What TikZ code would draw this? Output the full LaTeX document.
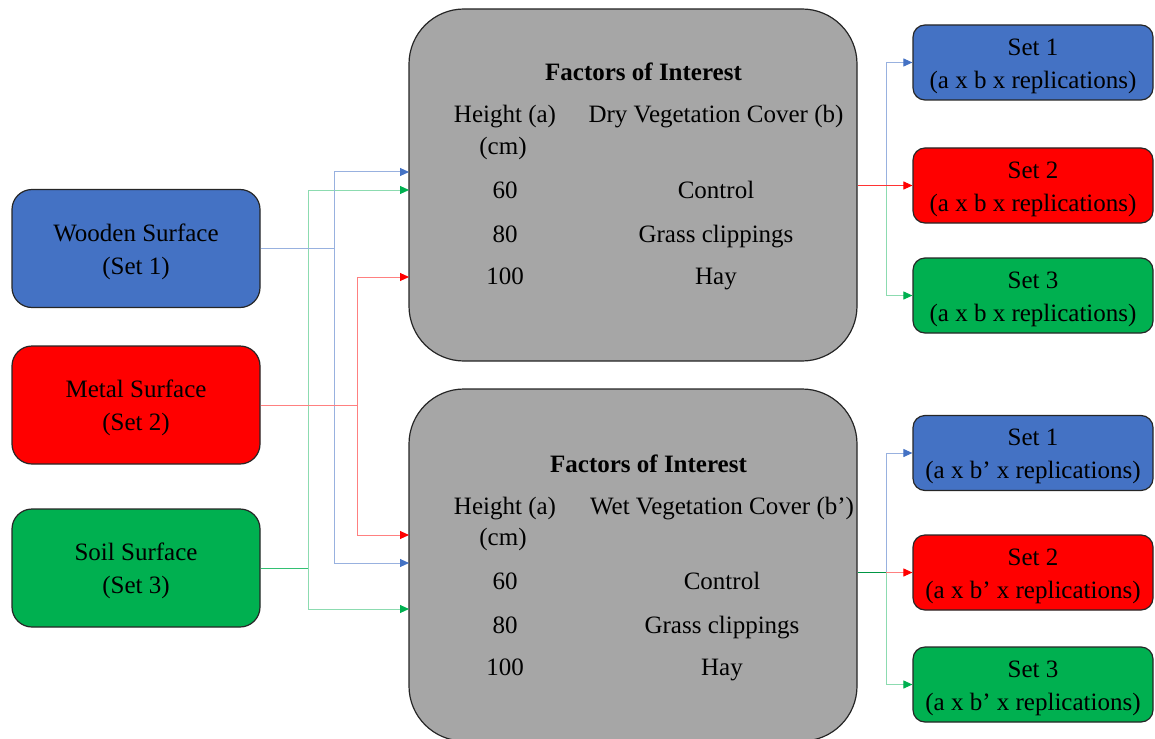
\documentclass[tikz,border=0pt]{standalone}
\usepackage{fontspec}
\setmainfont{Liberation Serif}
\usetikzlibrary{arrows.meta}
\definecolor{cblue}{HTML}{4472C4}
\definecolor{cred}{HTML}{FF0000}
\definecolor{cgreen}{HTML}{00B050}
\definecolor{cgray}{HTML}{A6A6A6}
\definecolor{edge}{HTML}{262626}
\begin{document}
\begin{tikzpicture}[x=1pt,y=-1pt,font=\fontsize{25}{33}\selectfont,
  srcbox/.style={draw=edge,line width=1.2pt,rounded corners=20pt,minimum width=248pt,minimum height=118pt,inner sep=0pt},
  graybox/.style={draw=edge,fill=cgray,line width=1.2pt,rounded corners=55pt,minimum width=448pt,minimum height=352pt,inner sep=0pt},
  outbox/.style={draw=edge,line width=1.2pt,rounded corners=12pt,minimum width=240pt,minimum height=75pt,inner sep=0pt},
  boxtxt/.style={align=center,inner sep=0pt},
  txt/.style={anchor=base,inner sep=0pt},
  lb/.style={draw=cblue!55!white,line width=1pt},
  lr/.style={draw=cred!50!white,line width=1pt},
  lg/.style={draw=cgreen!45!white,line width=1pt},
  tip/.style={-{Triangle[length=9pt,width=8pt,color=#1]}}
]
\useasboundingbox (0,0) rectangle (1155,738);

% source boxes
\node[srcbox,fill=cblue] (wood) at (136,248.5) {};
\node[srcbox,fill=cred] (metal) at (136,405) {};
\node[srcbox,fill=cgreen] (soil) at (136,568) {};
\node[boxtxt] (woodt) at ([yshift=-3pt]wood.center) {Wooden Surface\\(Set 1)};
\node[boxtxt] (metalt) at ([yshift=-3pt]metal.center) {Metal Surface\\(Set 2)};
\node[boxtxt] (soilt) at ([yshift=-3pt]soil.center) {Soil Surface\\(Set 3)};

% gray boxes
\node[graybox] (top) at (633,185) {};
\node[graybox] (bot) at (633,565) {};

% top gray text
\node[txt,font=\fontsize{25}{33}\selectfont\bfseries] (tf) at (643.5,81) {Factors of Interest};
\node[txt] (th1) at (505,123) {Height (a)};
\node[txt] (th2) at (503,154) {(cm)};
\node[txt] (tv) at (716,123) {Dry Vegetation Cover (b)};
\node[txt] (t60) at (505,198) {60};
\node[txt] (tc) at (716,198) {Control};
\node[txt] (t80) at (505,242) {80};
\node[txt] (tg) at (716,242) {Grass clippings};
\node[txt] (t100) at (505,284) {100};
\node[txt] (th) at (716,284) {Hay};

% bottom gray text
\node[txt,font=\fontsize{25}{33}\selectfont\bfseries] (bf) at (648.5,472) {Factors of Interest};
\node[txt] (bh1) at (505,514) {Height (a)};
\node[txt] (bh2) at (503,545) {(cm)};
\node[txt] (bv) at (722,514) {Wet Vegetation Cover (b’)};
\node[txt] (b60) at (505,589) {60};
\node[txt] (bc) at (722,589) {Control};
\node[txt] (b80) at (505,633) {80};
\node[txt] (bg) at (722,633) {Grass clippings};
\node[txt] (b100) at (505,675) {100};
\node[txt] (bhy) at (722,675) {Hay};

% output boxes
\node[outbox,fill=cblue] (s1a) at (1033,62.5) {};
\node[outbox,fill=cred] (s2a) at (1033,185.5) {};
\node[outbox,fill=cgreen] (s3a) at (1033,295.5) {};
\node[outbox,fill=cblue] (s1b) at (1033,453) {};
\node[outbox,fill=cred] (s2b) at (1033,572.5) {};
\node[outbox,fill=cgreen] (s3b) at (1033,684.5) {};
\node[boxtxt] (s1at) at ([yshift=-3.5pt]s1a.center) {Set 1\\(a x b x replications)};
\node[boxtxt] (s2at) at ([yshift=-3.5pt]s2a.center) {Set 2\\(a x b x replications)};
\node[boxtxt] (s3at) at ([yshift=-3.5pt]s3a.center) {Set 3\\(a x b x replications)};
\node[boxtxt] (s1bt) at ([yshift=-3.5pt]s1b.center) {Set 1\\(a x b’ x replications)};
\node[boxtxt] (s2bt) at ([yshift=-3.5pt]s2b.center) {Set 2\\(a x b’ x replications)};
\node[boxtxt] (s3bt) at ([yshift=-3.5pt]s3b.center) {Set 3\\(a x b’ x replications)};

% junctions and targets on the left
\coordinate (jb) at (334,248.5);
\coordinate (jr) at (357,405);
\coordinate (jg) at (308,568);
\coordinate (tb1) at (409,172);
\coordinate (tg1) at (409,190);
\coordinate (tr1) at (409,277);
\coordinate (tr2) at (409,535);
\coordinate (tb2) at (409,563);
\coordinate (tg2) at (409,609);

\draw[lg,tip=cgreen] (jg) |- (tg1);
\draw[lg,tip=cgreen] (jg) |- (tg2);
\draw[lb,tip=cblue] (jb) |- (tb1);
\draw[lb,tip=cblue] (jb) |- (tb2);
\draw[lr,tip=cred] (jr) |- (tr1);
\draw[lr,tip=cred] (jr) |- (tr2);
\draw[lb] (wood.east) -- (jb);
\draw[lr] (metal.east) -- (jr);
\draw[draw=cgreen!80!white,line width=1pt] (soil.east |- jg) -- (jg);

% right connectors, top
\coordinate (rj1) at (886,185.5);
\draw[lb,tip=cblue] (rj1) |- (s1a.west);
\draw[lg,tip=cgreen] (rj1) |- (s3a.west);
\draw[draw=cred!80!white,line width=1pt,tip=cred] (top.east |- s2a.west) -- (s2a.west);

% right connectors, bottom
\coordinate (rj2) at (886,572.5);
\draw[lb,tip=cblue] (rj2) |- (s1b.west);
\draw[lg,tip=cgreen] (rj2) |- (s3b.west);
\draw[lr,tip=cred] (rj2) -- (s2b.west);
\draw[draw=cgreen!85!black,line width=1pt] (bot.east |- s2b.west) -- (rj2);
\end{tikzpicture}
\end{document}
